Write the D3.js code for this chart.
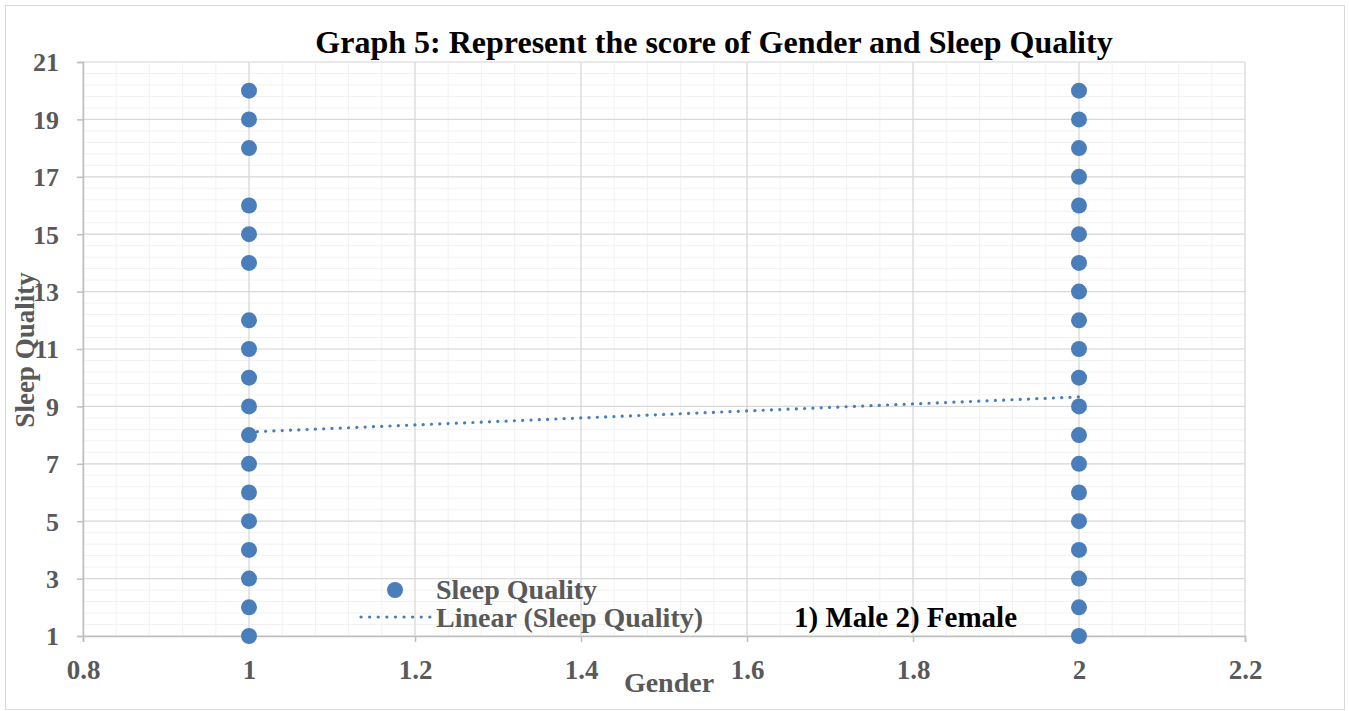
<!DOCTYPE html>
<html>
<head>
<meta charset="utf-8">
<script src="https://cdn.jsdelivr.net/npm/d3@7"></script>
<style>
  body { margin: 0; background: #fff; }
  svg { display: block; font-family: "Liberation Serif", "Times New Roman", serif; }
</style>
</head>
<body>
<div id="chart"></div>
<script>
// Data
const maleScores = [1, 2, 3, 4, 5, 6, 7, 8, 9, 10, 11, 12, 14, 15, 16, 18, 19, 20];
const femaleScores = [1, 2, 3, 4, 5, 6, 7, 8, 9, 10, 11, 12, 13, 14, 15, 16, 17, 18, 19, 20];
const trendGender = [1, 2];
const trendValues = [8.11, 9.33];
const xTicks = [0.8, 1, 1.2, 1.4, 1.6, 1.8, 2, 2.2];
const yTicks = [1, 3, 5, 7, 9, 11, 13, 15, 17, 19, 21];

const W = 1349, H = 711;
const plot = { left: 83, right: 1245, top: 62, bottom: 636 };
const blue = "#4a7ebb";
const grey = "#595959";

const points = []
  .concat(maleScores.map(v => ({ g: 1, v: v })))
  .concat(femaleScores.map(v => ({ g: 2, v: v })));

const svg = d3.select("#chart").append("svg")
  .attr("width", W)
  .attr("height", H);

// chart border
svg.append("rect")
  .attr("x", 5.5).attr("y", 5.5)
  .attr("width", 1339).attr("height", 704)
  .attr("fill", "#fff")
  .attr("stroke", "#d9d9d9");

const x = d3.scaleLinear().domain([0.8, 2.2]).range([plot.left, plot.right]);
const y = d3.scaleLinear().domain([1, 21]).range([plot.bottom, plot.top]);

// minor grid
const gGrid = svg.append("g");
gGrid.selectAll("line.xminor")
  .data(d3.range(0, 36).map(i => 0.8 + i * 0.04))
  .join("line")
  .attr("x1", d => x(d)).attr("x2", d => x(d))
  .attr("y1", plot.top).attr("y2", plot.bottom)
  .attr("stroke", "#f2f2f2").attr("stroke-width", 1);
gGrid.selectAll("line.yminor")
  .data(d3.range(0, 51).map(i => 1 + i * 0.4))
  .join("line")
  .attr("x1", plot.left).attr("x2", plot.right)
  .attr("y1", d => y(d)).attr("y2", d => y(d))
  .attr("stroke", "#f2f2f2").attr("stroke-width", 1);

// major grid
gGrid.selectAll("line.xmajor")
  .data(xTicks)
  .join("line")
  .attr("x1", d => x(d)).attr("x2", d => x(d))
  .attr("y1", plot.top).attr("y2", plot.bottom)
  .attr("stroke", "#d9d9d9").attr("stroke-width", 1.2);
gGrid.selectAll("line.ymajor")
  .data(yTicks)
  .join("line")
  .attr("x1", plot.left).attr("x2", plot.right)
  .attr("y1", d => y(d)).attr("y2", d => y(d))
  .attr("stroke", "#d9d9d9").attr("stroke-width", 1.2);

// axes
const xAxis = svg.append("g")
  .attr("transform", `translate(0,${plot.bottom})`)
  .call(d3.axisBottom(x).tickValues(xTicks).tickSize(6).tickPadding(18)
    .tickFormat(d => d3.format("")(+d.toFixed(1))));
const yAxis = svg.append("g")
  .attr("transform", `translate(${plot.left},0)`)
  .call(d3.axisLeft(y).tickValues(yTicks).tickSize(6).tickPadding(18));

[xAxis, yAxis].forEach(a => {
  a.select(".domain").attr("stroke", "#bfbfbf").attr("stroke-width", 1.5);
  a.selectAll(".tick line").attr("stroke", "#bfbfbf").attr("stroke-width", 1.5);
  a.selectAll(".tick text")
    .attr("fill", grey)
    .style("font-family", "'Liberation Serif', serif")
    .style("font-weight", "bold");
});
xAxis.selectAll(".tick text").style("font-size", "27px");
yAxis.selectAll(".tick text").style("font-size", "26px").attr("dy", "0.34em");

// trend line
svg.append("line")
  .attr("x1", x(trendGender[0])).attr("y1", y(trendValues[0]))
  .attr("x2", x(trendGender[1])).attr("y2", y(trendValues[1]))
  .attr("stroke", blue)
  .attr("stroke-width", 3.2)
  .attr("stroke-linecap", "round")
  .attr("stroke-dasharray", "0.1 8.2");

// points
svg.append("g").selectAll("circle")
  .data(points)
  .join("circle")
  .attr("cx", d => x(d.g))
  .attr("cy", d => y(d.v))
  .attr("r", 8)
  .attr("fill", blue);

// title
svg.append("text")
  .attr("x", 714).attr("y", 53)
  .attr("text-anchor", "middle")
  .style("font-size", "32px")
  .style("font-weight", "bold")
  .attr("fill", "#000")
  .text("Graph 5: Represent the score of Gender and Sleep Quality");

// axis titles
svg.append("text")
  .attr("x", 669).attr("y", 692)
  .attr("text-anchor", "middle")
  .style("font-size", "28px")
  .style("font-weight", "bold")
  .attr("fill", grey)
  .text("Gender");

svg.append("text")
  .attr("transform", "translate(34,350) rotate(-90)")
  .attr("text-anchor", "middle")
  .style("font-size", "27px")
  .style("font-weight", "bold")
  .attr("fill", grey)
  .text("Sleep Quality");

// legend
const legend = svg.append("g");
legend.append("circle")
  .attr("cx", 395).attr("cy", 590).attr("r", 8)
  .attr("fill", blue);
legend.append("text")
  .attr("x", 436).attr("y", 599)
  .style("font-size", "28px").style("font-weight", "bold")
  .attr("fill", grey)
  .text("Sleep Quality");
legend.append("line")
  .attr("x1", 361).attr("x2", 430)
  .attr("y1", 617).attr("y2", 617)
  .attr("stroke", blue)
  .attr("stroke-width", 3.2)
  .attr("stroke-linecap", "round")
  .attr("stroke-dasharray", "0.1 8.5");
legend.append("text")
  .attr("x", 436).attr("y", 627)
  .style("font-size", "28px").style("font-weight", "bold")
  .attr("fill", grey)
  .text("Linear (Sleep Quality)");

svg.append("text")
  .attr("x", 794).attr("y", 627)
  .style("font-size", "29px").style("font-weight", "bold")
  .attr("fill", "#000")
  .text("1) Male 2) Female");
</script>
</body>
</html>
